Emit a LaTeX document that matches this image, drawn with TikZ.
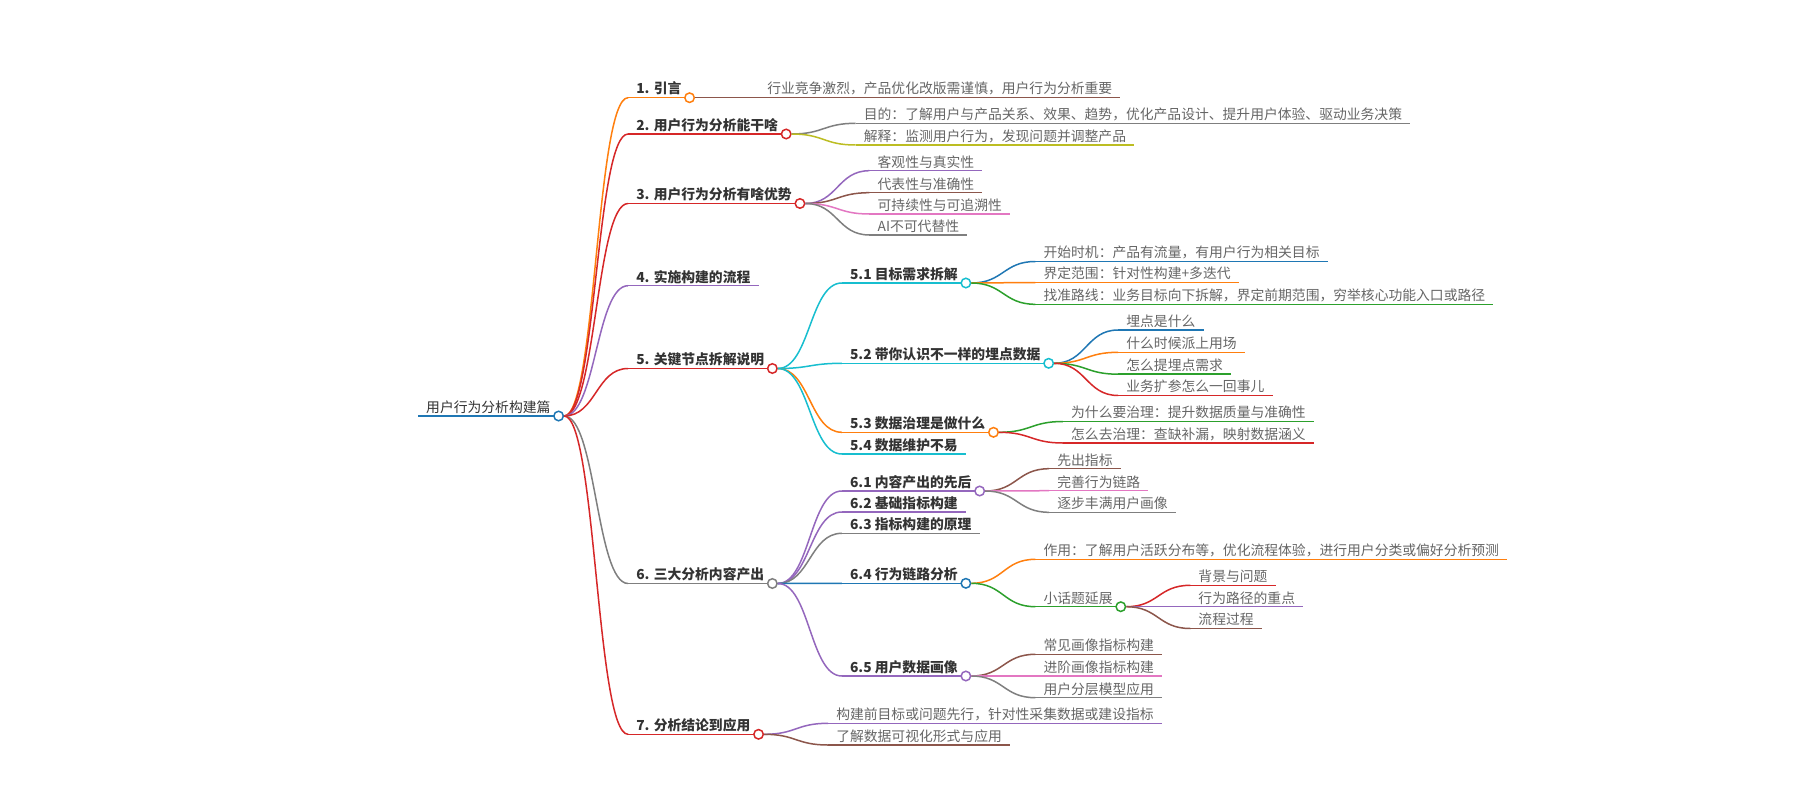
\documentclass[tikz,border=0pt]{standalone}
\usepackage{fontspec}
\setmainfont{Noto Sans CJK SC}
\usetikzlibrary{calc}
\definecolor{cBlue}{HTML}{1F77B4}
\definecolor{cOrange}{HTML}{FF7F0E}
\definecolor{cGreen}{HTML}{2CA02C}
\definecolor{cRed}{HTML}{D62728}
\definecolor{cPurple}{HTML}{9467BD}
\definecolor{cBrown}{HTML}{8C564B}
\definecolor{cPink}{HTML}{E377C2}
\definecolor{cGray}{HTML}{7F7F7F}
\definecolor{cOlive}{HTML}{BCBD22}
\definecolor{cCyan}{HTML}{17BECF}
\definecolor{tDark}{HTML}{333333}
\definecolor{tLight}{HTML}{666666}
\tikzset{
  lnk/.style={line width=1.5pt},
  lbl/.style={anchor=south west, inner xsep=8pt, inner ysep=3.5pt, text depth=0pt,
    font=\fontsize{13.8}{16}\selectfont},
  mainlbl/.style={lbl, text=tDark, font=\fontsize{13.8}{16}\selectfont\bfseries},
  leaflbl/.style={lbl, text=tLight},
  dotc/.style={circle, fill=white, line width=1.5pt, minimum size=9.5pt, inner sep=0pt},
}
% #1 name, #2 parent circle, #3 y of underline, #4 colour, #5 style, #6 text
\newcommand\mmkid[6]{%
  \path (#2.east) ++(64,0) coordinate (#1-s);
  \node[#5] (#1) at (#1-s |- 0,#3) {#6};
  \draw[lnk,#4] (#1.south west) -- (#1.south east);
  \draw[lnk,#4] (#2.east) .. controls +(32,0) and +(-32,0) .. (#1.south west);
}
\newcommand\mmdot[2]{\node[dotc, draw=#2] (#1dot) at (#1.south east) {};}
\begin{document}
\begin{tikzpicture}[x=1pt,y=-1pt]
\fill[white] (0,0) rectangle (1800,800);
\useasboundingbox (0,0) rectangle (1800,800);

\node[lbl,text=tDark] (root) at (418,416) {用户行为分析构建篇};
\draw[lnk,cBlue] (root.south west) -- (root.south east);
\mmdot{root}{cBlue}

\mmkid{n1}{rootdot}{97.7}{cOrange}{mainlbl}{1. 引言}
\mmdot{n1}{cOrange}
\mmkid{n1a}{n1dot}{97.7}{cBrown}{leaflbl}{行业竞争激烈，产品优化改版需谨慎，用户行为分析重要}

\mmkid{n2}{rootdot}{134}{cRed}{mainlbl}{2. 用户行为分析能干啥}
\mmdot{n2}{cRed}
\mmkid{n2a}{n2dot}{123.3}{cGray}{leaflbl}{目的：了解用户与产品关系、效果、趋势，优化产品设计、提升用户体验、驱动业务决策}
\mmkid{n2b}{n2dot}{145}{cOlive}{leaflbl}{解释：监测用户行为，发现问题并调整产品}

\mmkid{n3}{rootdot}{203.5}{cRed}{mainlbl}{3. 用户行为分析有啥优势}
\mmdot{n3}{cRed}
\mmkid{n3a}{n3dot}{170.7}{cPurple}{leaflbl}{客观性与真实性}
\mmkid{n3b}{n3dot}{192.7}{cBrown}{leaflbl}{代表性与准确性}
\mmkid{n3c}{n3dot}{214}{cPink}{leaflbl}{可持续性与可追溯性}
\mmkid{n3d}{n3dot}{235}{cGray}{leaflbl}{AI不可代替性}

\mmkid{n4}{rootdot}{285.7}{cPurple}{mainlbl}{4. 实施构建的流程}

\mmkid{n5}{rootdot}{368.5}{cRed}{mainlbl}{5. 关键节点拆解说明}
\mmdot{n5}{cRed}
\mmkid{n51}{n5dot}{283}{cCyan}{mainlbl}{5.1 目标需求拆解}
\mmdot{n51}{cCyan}
\mmkid{n51a}{n51dot}{261.5}{cBlue}{leaflbl}{开始时机：产品有流量，有用户行为相关目标}
\mmkid{n51b}{n51dot}{282.5}{cOrange}{leaflbl}{界定范围：针对性构建+多迭代}
\mmkid{n51c}{n51dot}{304.3}{cGreen}{leaflbl}{找准路线：业务目标向下拆解，界定前期范围，穷举核心功能入口或路径}
\mmkid{n52}{n5dot}{363.3}{cCyan}{mainlbl}{5.2 带你认识不一样的埋点数据}
\mmdot{n52}{cCyan}
\mmkid{n52a}{n52dot}{330}{cBlue}{leaflbl}{埋点是什么}
\mmkid{n52b}{n52dot}{352.3}{cOrange}{leaflbl}{什么时候派上用场}
\mmkid{n52c}{n52dot}{374.2}{cGreen}{leaflbl}{怎么提埋点需求}
\mmkid{n52d}{n52dot}{395.5}{cRed}{leaflbl}{业务扩参怎么一回事儿}
\mmkid{n53}{n5dot}{432.3}{cOrange}{mainlbl}{5.3 数据治理是做什么}
\mmdot{n53}{cOrange}
\mmkid{n53a}{n53dot}{421.5}{cGreen}{leaflbl}{为什么要治理：提升数据质量与准确性}
\mmkid{n53b}{n53dot}{443}{cRed}{leaflbl}{怎么去治理：查缺补漏，映射数据涵义}
\mmkid{n54}{n5dot}{454}{cCyan}{mainlbl}{5.4 数据维护不易}

\mmkid{n6}{rootdot}{583.5}{cGray}{mainlbl}{6. 三大分析内容产出}
\mmdot{n6}{cGray}
\mmkid{n61}{n6dot}{491}{cPurple}{mainlbl}{6.1 内容产出的先后}
\mmdot{n61}{cPurple}
\mmkid{n61a}{n61dot}{468.7}{cBrown}{leaflbl}{先出指标}
\mmkid{n61b}{n61dot}{490.7}{cPink}{leaflbl}{完善行为链路}
\mmkid{n61c}{n61dot}{512.3}{cGray}{leaflbl}{逐步丰满用户画像}
\mmkid{n62}{n6dot}{512}{cPurple}{mainlbl}{6.2 基础指标构建}
\mmkid{n63}{n6dot}{533.3}{cGray}{mainlbl}{6.3 指标构建的原理}
\mmkid{n64}{n6dot}{583.3}{cBlue}{mainlbl}{6.4 行为链路分析}
\mmdot{n64}{cBlue}
\mmkid{n64a}{n64dot}{559.3}{cOrange}{leaflbl}{作用：了解用户活跃分布等，优化流程体验，进行用户分类或偏好分析预测}
\mmkid{n64b}{n64dot}{606.7}{cGreen}{leaflbl}{小话题延展}
\mmdot{n64b}{cGreen}
\mmkid{n64ba}{n64bdot}{585.3}{cRed}{leaflbl}{背景与问题}
\mmkid{n64bb}{n64bdot}{606.7}{cPurple}{leaflbl}{行为路径的重点}
\mmkid{n64bc}{n64bdot}{628.5}{cBrown}{leaflbl}{流程过程}
\mmkid{n65}{n6dot}{676}{cPurple}{mainlbl}{6.5 用户数据画像}
\mmdot{n65}{cPurple}
\mmkid{n65a}{n65dot}{654.3}{cBrown}{leaflbl}{常见画像指标构建}
\mmkid{n65b}{n65dot}{676}{cPink}{leaflbl}{进阶画像指标构建}
\mmkid{n65c}{n65dot}{697.7}{cGray}{leaflbl}{用户分层模型应用}

\mmkid{n7}{rootdot}{734.3}{cRed}{mainlbl}{7. 分析结论到应用}
\mmdot{n7}{cRed}
\mmkid{n7a}{n7dot}{723.3}{cPurple}{leaflbl}{构建前目标或问题先行，针对性采集数据或建设指标}
\mmkid{n7b}{n7dot}{745}{cBrown}{leaflbl}{了解数据可视化形式与应用}
\end{tikzpicture}
\end{document}
